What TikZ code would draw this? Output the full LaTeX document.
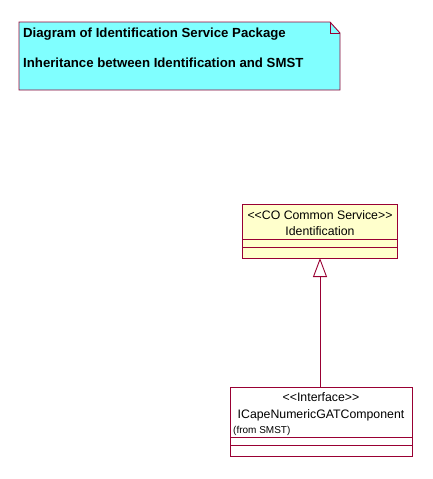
\documentclass[tikz,border=0pt]{standalone}
\usepackage{fontspec}
\setmainfont{Liberation Sans}
\usetikzlibrary{arrows.meta}
\definecolor{umlred}{HTML}{990033}
\definecolor{notecyan}{HTML}{80FFFF}
\definecolor{classyellow}{HTML}{FFFFCC}
\tikzset{
  umlline/.style={draw=umlred, line width=0.9pt},
  txt/.style={inner sep=0pt, anchor=base, font=\fontsize{12.3}{14}\selectfont},
  notetxt/.style={inner sep=0pt, anchor=base west, font=\bfseries\fontsize{13.2}{15}\selectfont},
}
\begin{document}
\begin{tikzpicture}[x=1pt,y=-1pt]
\useasboundingbox (0,0) rectangle (432,479);
% note
\draw[umlline, fill=notecyan] (19,22) -- (330,22) -- (340,33) -- (340,90) -- (19,90) -- cycle;
\draw[umlline] (330,22) -- (330,33) -- (340,33);
\node[notetxt] (n1) at (23,37) {Diagram of Identification Service Package};
\node[notetxt] (n2) at (23,67) {Inheritance between Identification and SMST};
% Identification class
\draw[umlline, fill=classyellow] (242,204) rectangle (397,258);
\draw[umlline] (242,239) -- (397,239);
\draw[umlline] (242,247) -- (397,247);
\coordinate (idb) at (320,258);
\node[txt] (s1) at (320,219) {<{}<CO Common Service>{}>};
\node[txt] (c1) at (320,235) {Identification};
% Interface class
\draw[umlline, fill=white] (230,387) rectangle (412,456);
\draw[umlline] (230,437) -- (412,437);
\draw[umlline] (230,445) -- (412,445);
\coordinate (ift) at (320,387);
\node[txt] (s2) at (321,401) {<{}<Interface>{}>};
\node[txt] (c2) at (321,418) {ICapeNumericGATComponent};
\node[txt, anchor=base west, font=\fontsize{10}{12}\selectfont] (f2) at (233,433) {(from SMST)};
% generalization
\draw[umlline, -{Triangle[open, width=14pt, length=19pt, fill=white]}] (ift) -- (idb);
\end{tikzpicture}
\end{document}
